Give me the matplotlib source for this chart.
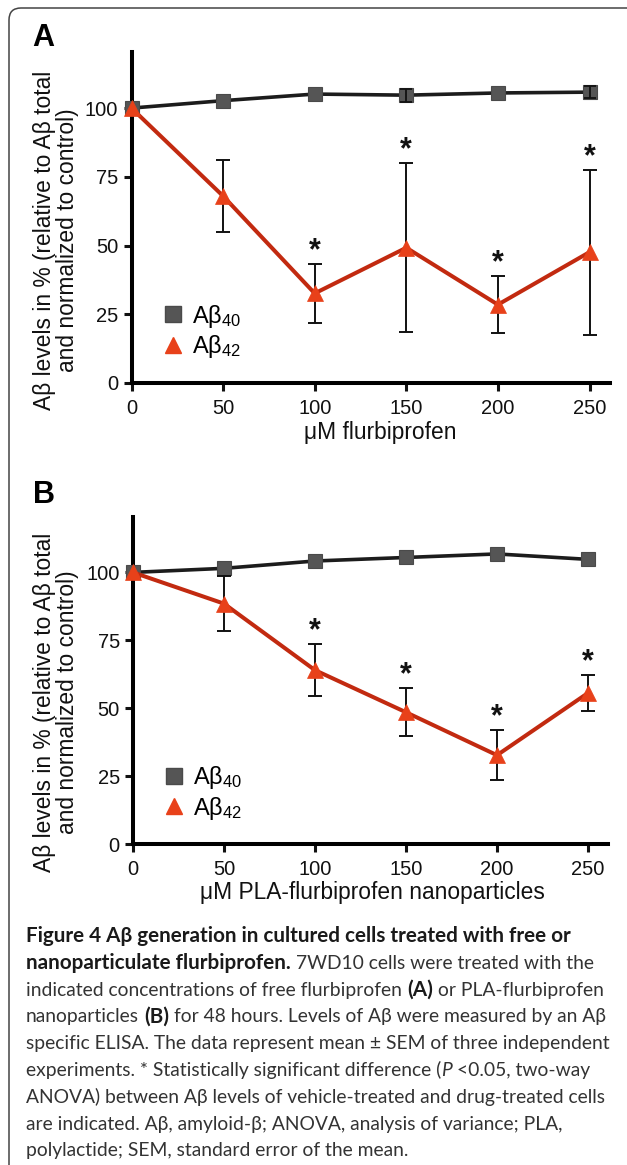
import matplotlib
matplotlib.use("Agg")
import matplotlib.pyplot as plt
from matplotlib.lines import Line2D
from matplotlib.patches import FancyBboxPatch
from matplotlib.transforms import IdentityTransform

plt.rcParams['font.family'] = ['Liberation Sans', 'DejaVu Sans']
plt.rcParams['mathtext.default'] = 'regular'

# data
doses = [0, 50, 100, 150, 200, 250]

a40_mean_A = [100, 102.7, 105.1, 104.7, 105.5, 105.8]
a40_sem_A = [0, 0, 0, 2.4, 0, 2.1]
a42_mean_A = [100, 68.0, 32.6, 49.2, 28.5, 47.6]
a42_sem_A = [0, 13.0, 10.6, 30.8, 10.3, 30.0]
sig_A = [False, False, True, True, True, True]

a40_mean_B = [100, 101.5, 104.2, 105.5, 106.8, 104.8]
a40_sem_B = [0, 0, 0, 0, 0, 0]
a42_mean_B = [100, 88.5, 64.0, 48.5, 32.7, 55.6]
a42_sem_B = [0, 10.0, 9.5, 8.8, 9.2, 6.7]
sig_B = [False, False, True, True, True, True]

ytick_vals = [0, 25, 50, 75, 100]
ylabel_txt = "Aβ levels in % (relative to Aβ total\nand normalized to control)"

W, H = 627, 1165
c40_line = '#1c1c1c'
c40_mark = '#555555'
c42_line = '#c22a10'
c42_mark = '#e8411a'


def fx(x):
    return x / W


def fy(y):
    return 1 - y / H


fig = plt.figure(figsize=(W / 100, H / 100), dpi=100)

# rounded frame around the whole figure (open to the right and bottom)
frame = FancyBboxPatch((9, -30), 660, H - 8 + 30, boxstyle="round,pad=0,rounding_size=12",
                       transform=IdentityTransform(), facecolor='none',
                       edgecolor='#444444', linewidth=1.1)
fig.add_artist(frame)


def bars(ax, x, m, s, **kw):
    # only draw error bars where the SEM is visible
    keep = [i for i in range(len(x)) if s[i] > 0]
    ax.errorbar([x[i] for i in keep], [m[i] for i in keep], yerr=[s[i] for i in keep],
                fmt='none', ecolor='#111111', clip_on=False, **kw)


def draw_panel(ax, m40, s40, m42, s42, sig):
    ax.plot(doses, m40, color=c40_line, lw=2.6, zorder=3, clip_on=False)
    ax.plot(doses, m40, ls='none', marker='s', ms=10.5, mfc=c40_mark, mec='#4a4a4a',
            mew=0.8, zorder=4, clip_on=False)
    bars(ax, doses, m40, s40, elinewidth=1.3, capsize=4.5, capthick=1.3, zorder=5)

    bars(ax, doses, m42, s42, elinewidth=1.4, capsize=4.7, capthick=1.4, zorder=6)
    ax.plot(doses, m42, color=c42_line, lw=2.9, zorder=7, clip_on=False)
    ax.plot(doses, m42, ls='none', marker='^', ms=11, mfc=c42_mark, mec=c42_mark,
            mew=0.5, zorder=8, clip_on=False)

    for x, m, s, flag in zip(doses, m42, s42, sig):
        if flag:
            ax.annotate('*', (x, m + s), xytext=(0, 3.5), textcoords='offset points',
                        ha='center', va='baseline', fontsize=22, fontweight='bold',
                        color='#111111')

    ax.set_xlim(0, 261)
    ax.set_ylim(0, 120.4)
    ax.set_xticks(doses)
    ax.set_yticks(ytick_vals)
    for side in ['top', 'right']:
        ax.spines[side].set_visible(False)
    for side in ['left', 'bottom']:
        ax.spines[side].set_linewidth(2.9)
    ax.tick_params(direction='out', length=6, width=2.2, labelsize=14.5, pad=3.5,
                   colors='#111111')
    ax.tick_params(axis='x', pad=5.5)
    ax.patch.set_alpha(0)

    handles = [Line2D([], [], ls='none', marker='s', ms=11, mfc=c40_mark, mec='#4a4a4a'),
               Line2D([], [], ls='none', marker='^', ms=12, mfc=c42_mark, mec=c42_mark)]
    ax.legend(handles, ['Aβ$_{40}$', 'Aβ$_{42}$'], loc='center left',
              bbox_to_anchor=(0.067, 0.156), frameon=False, fontsize=17,
              handlelength=0.8, handletextpad=0.4, labelspacing=0.15, borderpad=0,
              borderaxespad=0)


# panel A
axA = fig.add_axes([fx(131.5), fy(383), 261 * 1.832 / W, 331 / H])
draw_panel(axA, a40_mean_A, a40_sem_A, a42_mean_A, a42_sem_A, sig_A)
fig.text(fx(43), fy(38), 'A', ha='center', va='center', fontsize=22, fontweight='bold')
fig.text(fx(56), fy(240), ylabel_txt, rotation=90, ha='center', va='center',
         multialignment='center', fontsize=16.4, linespacing=1.05, color='#111111')
fig.text(fx(380), fy(432), 'μM flurbiprofen', ha='center', va='center', fontsize=16.4,
         color='#111111')

# panel B
axB = fig.add_axes([fx(133), fy(844), 261 * 1.82 / W, 327 / H])
draw_panel(axB, a40_mean_B, a40_sem_B, a42_mean_B, a42_sem_B, sig_B)
fig.text(fx(44), fy(495), 'B', ha='center', va='center', fontsize=22, fontweight='bold')
fig.text(fx(56), fy(702), ylabel_txt, rotation=90, ha='center', va='center',
         multialignment='center', fontsize=16.4, linespacing=1.05, color='#111111')
fig.text(fx(372), fy(893), 'μM PLA-flurbiprofen nanoparticles', ha='center', va='center',
         fontsize=16.4, color='#111111')

# caption, built segment by segment (bold / regular / italic)
caption = [
    [("Figure 4 Aβ generation in cultured cells treated with free or", 'bold', 'normal')],
    [("nanoparticulate flurbiprofen.", 'bold', 'normal'),
     (" 7WD10 cells were treated with the", 'normal', 'normal')],
    [("indicated concentrations of free flurbiprofen ", 'normal', 'normal'),
     ("(A)", 'bold', 'normal'), (" or PLA-flurbiprofen", 'normal', 'normal')],
    [("nanoparticles ", 'normal', 'normal'), ("(B)", 'bold', 'normal'),
     (" for 48 hours. Levels of Aβ were measured by an Aβ", 'normal', 'normal')],
    [("specific ELISA. The data represent mean ± SEM of three independent", 'normal', 'normal')],
    [("experiments. * Statistically significant difference (", 'normal', 'normal'),
     ("P", 'normal', 'italic'), (" <0.05, two-way", 'normal', 'normal')],
    [("ANOVA) between Aβ levels of vehicle-treated and drug-treated cells", 'normal', 'normal')],
    [("are indicated. Aβ, amyloid-β; ANOVA, analysis of variance; PLA,", 'normal', 'normal')],
    [("polylactide; SEM, standard error of the mean.", 'normal', 'normal')],
]
cap_font = ['Lato', 'DejaVu Sans']
renderer = fig.canvas.get_renderer()


def probe_width(s, weight, size):
    t = fig.text(0, 0, s, family=cap_font, fontsize=size, fontweight=weight)
    w = t.get_window_extent(renderer).width
    t.remove()
    return w


# pick caption sizes so line 3 (regular) and line 1 (bold) span their reference widths
reg_size = 10 * 577 / probe_width(caption[2][0][0] + "(A)" + caption[2][2][0], 'normal', 10)
bold_size = 10 * 558 / probe_width(caption[0][0][0], 'bold', 10)
bold_size = min(bold_size, reg_size * 1.07)


def seg_size(weight):
    return bold_size if weight == 'bold' else reg_size


def text_width(s, weight, style):
    t = fig.text(0, 0, s, family=cap_font, fontsize=seg_size(weight), fontweight=weight,
                 fontstyle=style)
    w = t.get_window_extent(renderer).width
    t.remove()
    return w


space_w = text_width("x x", 'normal', 'normal') - text_width("xx", 'normal', 'normal')

y0 = 942
for i, line in enumerate(caption):
    x = 26
    yb = y0 + i * 26.8
    for s, weight, style in line:
        lead = len(s) - len(s.lstrip(' '))
        trail = len(s) - len(s.rstrip(' '))
        x += lead * space_w
        core = s.strip(' ')
        col = '#1a1a1a' if weight == 'bold' else '#333333'
        fig.text(fx(x), fy(yb), core, family=cap_font, fontsize=seg_size(weight),
                 fontweight=weight, fontstyle=style, ha='left', va='baseline', color=col)
        x += text_width(core, weight, style) + trail * space_w

fig.savefig('out.png', dpi=100)
